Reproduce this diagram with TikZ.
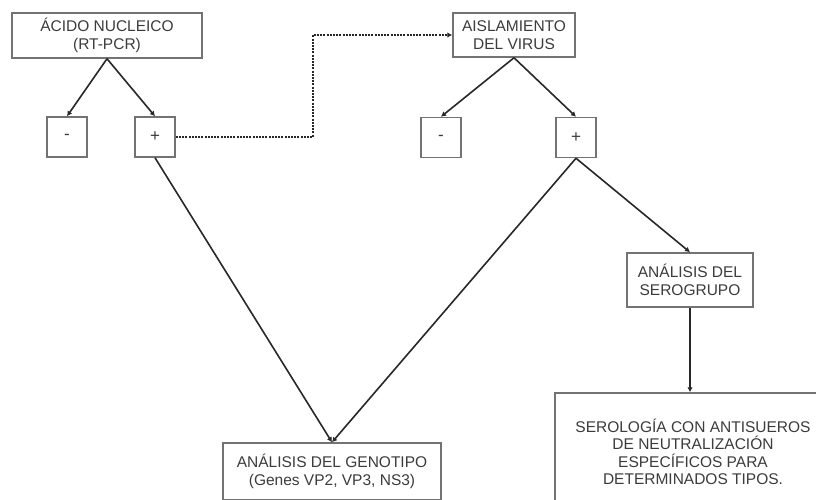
\documentclass[tikz,border=0pt]{standalone}
\usepackage{fontspec}
\setmainfont{Liberation Sans}
\usepackage{xcolor}
\usepackage{tikz}
\usetikzlibrary{arrows.meta,positioning}
\definecolor{fcText}{RGB}{60,60,60}
\definecolor{fcLine}{RGB}{40,40,40}
\definecolor{fcBox}{RGB}{115,115,115}

\begin{document}
\begin{tikzpicture}[x=1pt,y=-1pt,
  box/.style={draw=fcBox, line width=1.5pt, text=fcText, align=center,
    font=\fontsize{15.5}{17.5}\selectfont, inner sep=0pt},
  signbox/.style={box, minimum width=40pt, minimum height=40pt, font=\fontsize{17}{17}\selectfont},
  link/.style={draw=fcLine, line width=1.6pt, -{Latex[length=5pt,width=5.5pt]}},
  dotlink/.style={link, dash pattern=on 2pt off 1.2pt}]
\clip (0,0) rectangle (816,499);
\fill[white] (0,0) rectangle (816,499);

\node[box, minimum width=190pt, minimum height=45pt] (acido) at (107,35.5) {ÁCIDO NUCLEICO\\(RT-PCR)};
\node[box, minimum width=122pt, minimum height=44pt] (aisl) at (514,35) {AISLAMIENTO\\DEL VIRUS};

\node[signbox] (m1) at (67,137) {-};
\node[signbox] (p1) at (155,137) {+};
\node[signbox] (m2) at (441,137.5) {-};
\node[signbox] (p2) at (576,137.5) {+};

\node[box, minimum width=126pt, minimum height=54pt] (sero) at (690,280) {ANÁLISIS DEL\\SEROGRUPO};
\node[box, minimum width=218pt, minimum height=57pt] (geno) at (332,471.5) {ANÁLISIS DEL GENOTIPO\\(Genes VP2, VP3, NS3)};
\node[box, minimum width=276pt, minimum height=118pt] (serol) at (693,452) {SEROLOGÍA CON ANTISUEROS\\DE NEUTRALIZACIÓN\\ESPECÍFICOS PARA\\DETERMINADOS TIPOS.};

\coordinate (turn) at (313,137);

\draw[link] (acido.south) -- (m1.north);
\draw[link] (acido.south) -- (p1.north);
\draw[link] (aisl.south) -- (m2.north);
\draw[link] (aisl.south) -- (p2.north);
\draw[dotlink] (p1.east) -- (turn) |- (aisl.west);
\draw[link] (p1.south) -- (geno.north);
\draw[link] (p2.south) -- (geno.north);
\draw[link] (p2.south) -- (sero.north);
\draw[link] (sero.south) -- (sero.south |- serol.north);
\end{tikzpicture}
\end{document}
